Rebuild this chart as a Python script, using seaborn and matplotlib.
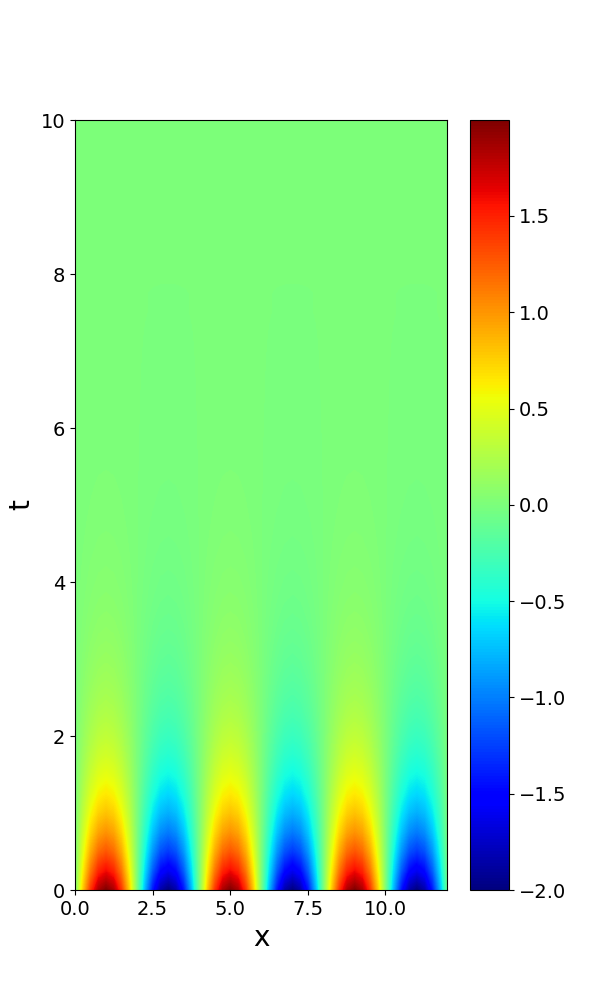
import numpy as np
import matplotlib
matplotlib.use("Agg")
import matplotlib.pyplot as plt
from matplotlib.ticker import MultipleLocator
import seaborn as sns

# spatial profile u(x, 0)/2 sampled every 0.25 on x in [0, 12]
x_step = 0.25
profile = [
    0.0, 0.383, 0.707, 0.924, 1.0, 0.924, 0.707, 0.383,
    0.0, -0.383, -0.707, -0.924, -1.0, -0.924, -0.707, -0.383,
    0.0, 0.383, 0.707, 0.924, 1.0, 0.924, 0.707, 0.383,
    0.0, -0.383, -0.707, -0.924, -1.0, -0.924, -0.707, -0.383,
    0.0, 0.383, 0.707, 0.924, 1.0, 0.924, 0.707, 0.383,
    0.0, -0.383, -0.707, -0.924, -1.0, -0.924, -0.707, -0.383,
    0.0,
]

# peak amplitude read along t, every 0.25 on t in [0, 10]
t_step = 0.25
amplitude = [
    2.0, 1.597, 1.275, 1.018, 0.813, 0.649, 0.518, 0.414,
    0.331, 0.264, 0.211, 0.168, 0.134, 0.107, 0.086, 0.068,
    0.055, 0.044, 0.035, 0.028, 0.022, 0.018, 0.014, 0.011,
    0.009, 0.007, 0.006, 0.005, 0.004, 0.003, 0.002, 0.002,
    0.0, 0.0, 0.0, 0.0, 0.0, 0.0, 0.0, 0.0,
    0.0,
]

sns.set_style("ticks", {"axes.edgecolor": "black", "xtick.color": "black",
                        "ytick.color": "black", "axes.labelcolor": "black",
                        "text.color": "black"})
plt.rcParams['font.family'] = ['DejaVu Sans']

u = np.outer(amplitude, profile)
x_max = (len(profile) - 1) * x_step
t_max = (len(amplitude) - 1) * t_step

fig, ax = plt.subplots(figsize=(6, 10), dpi=100)
img = ax.imshow(u, origin="lower", cmap="jet", vmin=-2.0, vmax=1.998,
                interpolation="bilinear", aspect="auto",
                extent=[-x_step / 2, x_max + x_step / 2,
                        -t_step / 2, t_max + t_step / 2])
cb = fig.colorbar(img, ax=ax)
cb.ax.tick_params(labelsize=14)

ax.set_xlim(0, x_max)
ax.set_ylim(0, t_max)
ax.xaxis.set_major_locator(MultipleLocator(2.5))
ax.set_xlabel("x", fontsize=20)
ax.set_ylabel("t", fontsize=20)
ax.tick_params(labelsize=14)

fig.savefig("out.png", dpi=100)
